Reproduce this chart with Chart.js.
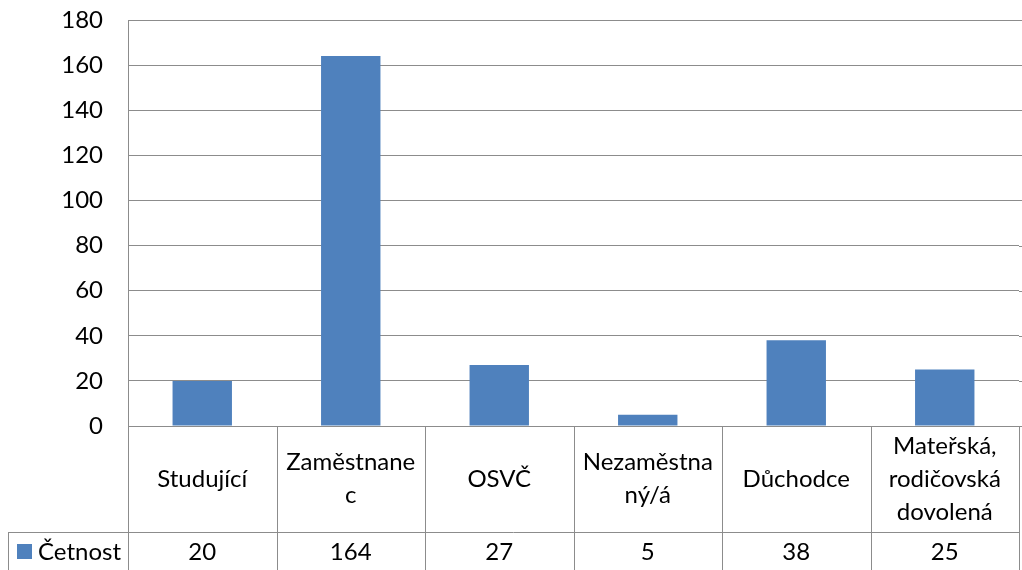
<!DOCTYPE html>
<html>
<head>
<meta charset="utf-8">
<script src="https://cdn.jsdelivr.net/npm/chart.js@4/dist/chart.umd.min.js"></script>
<style>
	html, body { margin: 0; padding: 0; background: #fff; }
	canvas { display: block; }
</style>
</head>
<body>
<canvas id="bar_cetnost" width="1022" height="570"></canvas>
<script>
// Data
const labelsCetnost = [
	['Studující'],
	['Zaměstnane', 'c'],
	['OSVČ'],
	['Nezaměstna', 'ný/á'],
	['Důchodce'],
	['Mateřská,', 'rodičovská', 'dovolená']
]
const dataCetnost = [20, 164, 27, 5, 38, 25]
const seriesName = 'Četnost'
const yTicks = [0, 20, 40, 60, 80, 100, 120, 140, 160, 180]

const barColor = '#4F81BD'
const lineColor = '#8c8c8c'
const fontFamily = 'Lato'

ctx = document.getElementById('bar_cetnost').getContext('2d')

// tabulka dat pod grafem
const dataTable = {
	id: 'dataTable',
	afterDraw(chart) {
		const c = chart.ctx
		const area = chart.chartArea
		const x = chart.scales.x
		const y = chart.scales.y
		const half = (x.getPixelForValue(1) - x.getPixelForValue(0)) / 2
		const rowTop = area.bottom
		const rowMid = rowTop + 106
		const rowEnd = chart.height
		const legendLeft = 8

		c.save()
		c.strokeStyle = lineColor
		c.lineWidth = 1

		// prodloužení mřížky až k okraji
		c.beginPath()
		yTicks.forEach(v => {
			const py = Math.round(y.getPixelForValue(v)) + 0.5
			c.moveTo(area.right, py)
			c.lineTo(chart.width, py)
		})
		c.stroke()

		c.beginPath()
		// horizontální linka mezi řádky
		c.moveTo(legendLeft, rowMid + 0.5)
		c.lineTo(area.right, rowMid + 0.5)
		// svislé linky
		for (let i = 0; i <= labelsCetnost.length; i++) {
			const px = Math.round(x.getPixelForValue(i) - half) + 0.5
			c.moveTo(px, rowTop)
			c.lineTo(px, rowEnd)
		}
		c.moveTo(legendLeft + 0.5, rowMid)
		c.lineTo(legendLeft + 0.5, rowEnd)
		c.stroke()

		// texty
		c.fillStyle = '#000'
		c.font = '24px ' + fontFamily
		c.textAlign = 'center'
		c.textBaseline = 'middle'
		const lineH = 33
		const catCenter = (rowTop + rowMid) / 2
		const valCenter = rowMid + 20
		labelsCetnost.forEach((lines, i) => {
			const px = x.getPixelForValue(i)
			const start = catCenter - (lines.length - 1) * lineH / 2
			lines.forEach((t, j) => c.fillText(t, px, start + j * lineH))
			c.fillText(String(dataCetnost[i]), px, valCenter)
		})

		// legenda v tabulce
		c.fillStyle = barColor
		c.fillRect(legendLeft + 9, valCenter - 8, 15, 15)
		c.fillStyle = '#000'
		c.textAlign = 'left'
		c.fillText(seriesName, legendLeft + 30, valCenter)
		c.restore()
	}
}

const configCetnost = {
	type: 'bar',
	data: {
		labels: labelsCetnost,
		datasets: [{
			label: seriesName,
			data: dataCetnost,
			backgroundColor: barColor,
			borderWidth: 0,
			barPercentage: 0.4,
			categoryPercentage: 1
		}]
	},
	options: {
		responsive: false,
		animation: false,
		layout: {
			padding: { top: 20, bottom: 144, right: 3, left: 0 }
		},
		plugins: {
			legend: { display: false },
			tooltip: { enabled: false }
		},
		scales: {
			x: {
				display: false
			},
			y: {
				min: 0,
				max: 180,
				afterBuildTicks(scale) {
					scale.ticks = yTicks.map(v => ({ value: v }))
				},
				afterFit(scale) {
					scale.width = 128
					scale.paddingTop = 0
					scale.paddingBottom = 0
				},
				grid: {
					color: lineColor,
					lineWidth: 1,
					drawTicks: false
				},
				border: {
					color: lineColor,
					width: 1
				},
				ticks: {
					padding: 25,
					color: '#000',
					font: { family: fontFamily, size: 24 }
				}
			}
		}
	},
	plugins: [dataTable]
}

const barCetnost = new Chart(ctx, configCetnost)
</script>
</body>
</html>
